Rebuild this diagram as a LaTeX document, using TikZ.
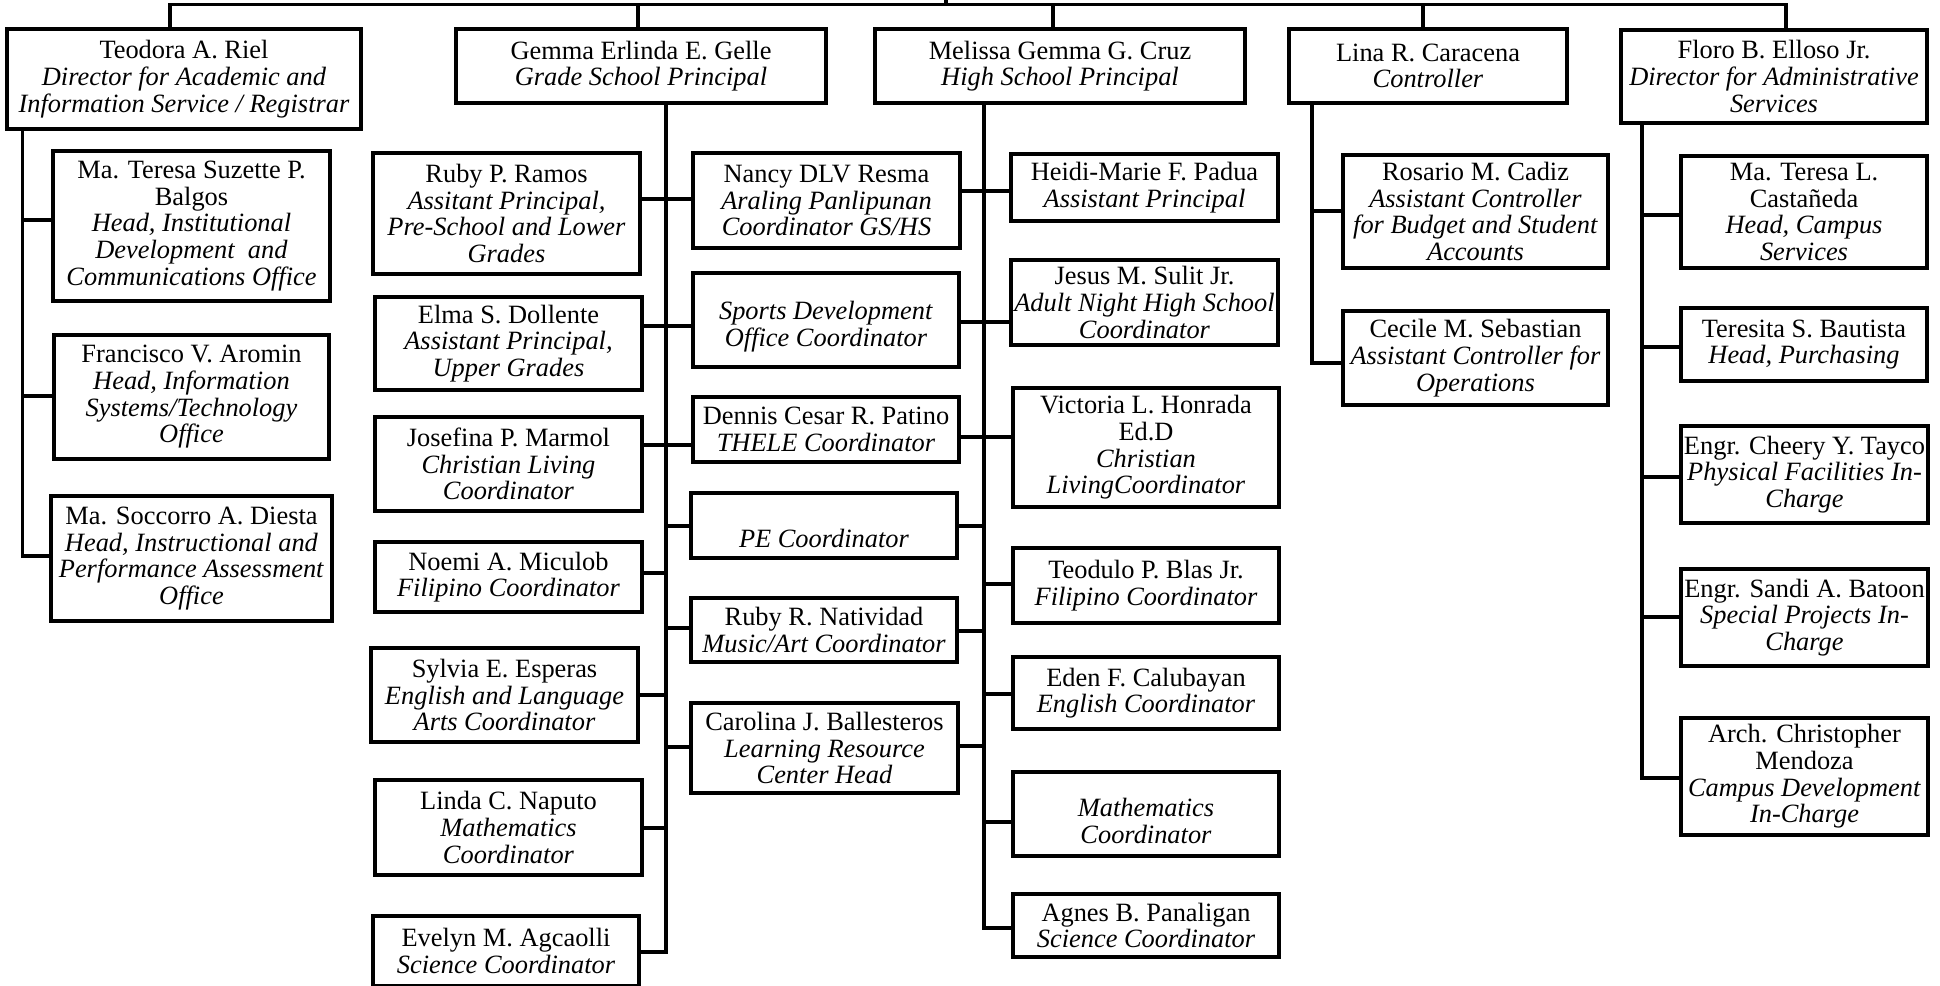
\documentclass[tikz,border=0pt]{standalone}
\usepackage{fontspec}
\setmainfont{Liberation Serif}
\newcommand\fs{\fontsize{26.4}{26.7}\selectfont}
\tikzset{
  box/.style={draw, line width=3.2pt, inner sep=0pt, outer sep=0pt, align=center, font=\fs, fill=white},
  conn/.style={line width=3.2pt}
}
\newcommand\bx[6]{\node[box, minimum width={#4-#2}, minimum height={#5-#3}] (#1) at ({(#2+#4)/2},{(#3+#5)/2}) {#6};}
\begin{document}
\begin{tikzpicture}[x=1pt,y=-1pt]
\useasboundingbox (0,0) rectangle (1940,985);
% ---------- boxes ----------
\bx{teodora}{7}{29}{361}{129}{Teodora A. Riel\\\textit{Director for Academic and}\\\textit{Information Service / Registrar}}
\bx{balgos}{53}{151}{330}{301}{Ma. Teresa Suzette P.\\Balgos\\\textit{Head, Institutional}\\\textit{Development\ \ and}\\\textit{Communications Office}}
\bx{aromin}{54}{335}{329}{459}{Francisco V. Aromin\\\textit{Head, Information}\\\textit{Systems/Technology}\\\textit{Office}}
\bx{diesta}{51}{496}{332}{621}{Ma. Soccorro A. Diesta\\\textit{Head, Instructional and}\\\textit{Performance Assessment}\\\textit{Office}}
\bx{gelle}{456}{29}{826}{103}{Gemma Erlinda E. Gelle\\\textit{Grade School Principal}}
\bx{ramos}{373}{153}{640}{274}{Ruby P. Ramos\\\textit{Assitant Principal,}\\\textit{Pre-School and Lower}\\\textit{Grades}}
\bx{resma}{693}{153}{960}{248}{Nancy DLV Resma\\\textit{Araling Panlipunan}\\\textit{Coordinator GS/HS}}
\bx{elma}{375}{297}{642}{390}{Elma S. Dollente\\\textit{Assistant Principal,}\\\textit{Upper Grades}}
\bx{sports}{693}{273}{959}{367}{\rule{0pt}{32pt}\textit{Sports Development}\\\textit{Office Coordinator}}
\bx{josefina}{375}{417}{642}{511}{Josefina P. Marmol\\\textit{Christian Living}\\\textit{Coordinator}}
\bx{dennis}{693}{397}{959}{462}{Dennis Cesar R. Patino\\\textit{THELE Coordinator}}
\bx{pe}{691}{493}{957}{558}{\rule{0pt}{45pt}\textit{PE Coordinator}}
\bx{noemi}{375}{542}{642}{612}{Noemi A. Miculob\\\textit{Filipino Coordinator}}
\bx{rubyn}{691}{598}{957}{662}{Ruby R. Natividad\\\textit{Music/Art Coordinator}}
\bx{sylvia}{371}{648}{638}{742}{Sylvia E. Esperas\\\textit{English and Language}\\\textit{Arts Coordinator}}
\bx{carolina}{691}{703}{958}{793}{Carolina J. Ballesteros\\\textit{Learning Resource}\\\textit{Center Head}}
\bx{linda}{375}{780}{642}{875}{Linda C. Naputo\\\textit{Mathematics}\\\textit{Coordinator}}
\bx{evelyn}{373}{916}{639}{986}{Evelyn M. Agcaolli\\\textit{Science Coordinator}}
\bx{cruz}{875}{29}{1245}{103}{Melissa Gemma G. Cruz\\\textit{High School Principal}}
\bx{heidi}{1011}{154}{1278}{221}{Heidi-Marie F. Padua\\\textit{Assistant Principal}}
\bx{jesus}{1011}{260}{1278}{345}{Jesus M. Sulit Jr.\\\textit{Adult Night High School}\\\textit{Coordinator}}
\bx{victoria}{1013}{388}{1279}{507}{Victoria L. Honrada\\Ed.D\\\textit{Christian}\\\textit{LivingCoordinator}}
\bx{teodulo}{1013}{548}{1279}{623}{Teodulo P. Blas Jr.\\\textit{Filipino Coordinator}}
\bx{eden}{1013}{657}{1279}{729}{Eden F. Calubayan\\\textit{English Coordinator}}
\bx{math}{1013}{772}{1279}{856}{\rule{0pt}{32pt}\textit{Mathematics}\\\textit{Coordinator}}
\bx{agnes}{1013}{894}{1279}{957}{Agnes B. Panaligan\\\textit{Science Coordinator}}
\bx{lina}{1289}{29}{1567}{103}{Lina R. Caracena\\\textit{Controller}}
\bx{rosario}{1343}{155}{1608}{268}{Rosario M. Cadiz\\\textit{Assistant Controller}\\\textit{for Budget and Student}\\\textit{Accounts}}
\bx{cecile}{1343}{311}{1608}{405}{Cecile M. Sebastian\\\textit{Assistant Controller for}\\\textit{Operations}}
\bx{floro}{1621}{30}{1927}{123}{Floro B. Elloso Jr.\\\textit{Director for Administrative}\\\textit{Services}}
\bx{castaneda}{1681}{156}{1927}{268}{Ma. Teresa L.\\Castañeda\\\textit{Head, Campus}\\\textit{Services}}
\bx{bautista}{1681}{308}{1927}{381}{Teresita S. Bautista\\\textit{Head, Purchasing}}
\bx{tayco}{1681}{426}{1928}{523}{Engr. Cheery Y. Tayco\\\textit{Physical Facilities In-}\\\textit{Charge}}
\bx{batoon}{1681}{569}{1928}{666}{Engr. Sandi A. Batoon\\\textit{Special Projects In-}\\\textit{Charge}}
\bx{mendoza}{1681}{718}{1928}{835}{Arch. Christopher\\Mendoza\\\textit{Campus Development}\\\textit{In-Charge}}
% ---------- top bar ----------
\coordinate (top) at (946,-3);
\coordinate (tM) at (946,4.5);
\coordinate (tT) at (170,4.5);
\coordinate (tG) at (638,4.5);
\coordinate (tC) at (1053,4.5);
\coordinate (tL) at (1423,4.5);
\coordinate (tF) at (1786,4.5);
\draw[conn] (teodora.north -| tT) -- (tT) -- (tF) -- (floro.north -| tF);
\draw[conn] (top) -- (tM);
\draw[conn] (tG) -- (gelle.north -| tG);
\draw[conn] (tC) -- (cruz.north -| tC);
\draw[conn] (tL) -- (lina.north -| tL);
% ---------- Teodora branch ----------
\coordinate (tv1) at (22.5,220);
\coordinate (tv2) at (22.5,396);
\coordinate (tv3) at (22.5,556);
\draw[conn] (teodora.south -| tv1) -- (tv3) -- (diesta.west |- tv3);
\draw[conn] (tv1) -- (balgos.west |- tv1);
\draw[conn] (tv2) -- (aromin.west |- tv2);
% ---------- Gelle branch ----------
\coordinate (g1) at (666,199);
\coordinate (g2) at (666,326);
\coordinate (g3) at (666,445);
\coordinate (g4) at (666,526);
\coordinate (g5) at (666,573);
\coordinate (g6) at (666,628);
\coordinate (g7) at (666,695);
\coordinate (g8) at (666,747);
\coordinate (g9) at (666,828);
\coordinate (g10) at (666,952);
\draw[conn] (gelle.south -| g1) -- (g10) -- (evelyn.east |- g10);
\draw[conn] (ramos.east |- g1) -- (resma.west |- g1);
\draw[conn] (elma.east |- g2) -- (sports.west |- g2);
\draw[conn] (josefina.east |- g3) -- (dennis.west |- g3);
\draw[conn] (g4) -- (pe.west |- g4);
\draw[conn] (noemi.east |- g5) -- (g5);
\draw[conn] (g6) -- (rubyn.west |- g6);
\draw[conn] (sylvia.east |- g7) -- (g7);
\draw[conn] (g8) -- (carolina.west |- g8);
\draw[conn] (linda.east |- g9) -- (g9);
% ---------- Cruz branch ----------
\coordinate (c1) at (984,191);
\coordinate (c2) at (984,322);
\coordinate (c3) at (984,437);
\coordinate (c4) at (984,526);
\coordinate (c5) at (984,584);
\coordinate (c6) at (984,631);
\coordinate (c7) at (984,694);
\coordinate (c8) at (984,746);
\coordinate (c9) at (984,822);
\coordinate (c10) at (984,928);
\draw[conn] (cruz.south -| c1) -- (c10) -- (agnes.west |- c10);
\draw[conn] (resma.east |- c1) -- (heidi.west |- c1);
\draw[conn] (sports.east |- c2) -- (jesus.west |- c2);
\draw[conn] (dennis.east |- c3) -- (victoria.west |- c3);
\draw[conn] (pe.east |- c4) -- (c4);
\draw[conn] (c5) -- (teodulo.west |- c5);
\draw[conn] (rubyn.east |- c6) -- (c6);
\draw[conn] (c7) -- (eden.west |- c7);
\draw[conn] (carolina.east |- c8) -- (c8);
\draw[conn] (c9) -- (math.west |- c9);
% ---------- Lina branch ----------
\coordinate (l1) at (1312,211);
\coordinate (l2) at (1312,363);
\draw[conn] (lina.south -| l1) -- (l2) -- (cecile.west |- l2);
\draw[conn] (l1) -- (rosario.west |- l1);
% ---------- Floro branch ----------
\coordinate (f1) at (1642,215);
\coordinate (f2) at (1642,347);
\coordinate (f3) at (1642,477);
\coordinate (f4) at (1642,617);
\coordinate (f5) at (1642,778);
\draw[conn] (floro.south -| f1) -- (f5) -- (mendoza.west |- f5);
\draw[conn] (f1) -- (castaneda.west |- f1);
\draw[conn] (f2) -- (bautista.west |- f2);
\draw[conn] (f3) -- (tayco.west |- f3);
\draw[conn] (f4) -- (batoon.west |- f4);
\end{tikzpicture}
\end{document}
